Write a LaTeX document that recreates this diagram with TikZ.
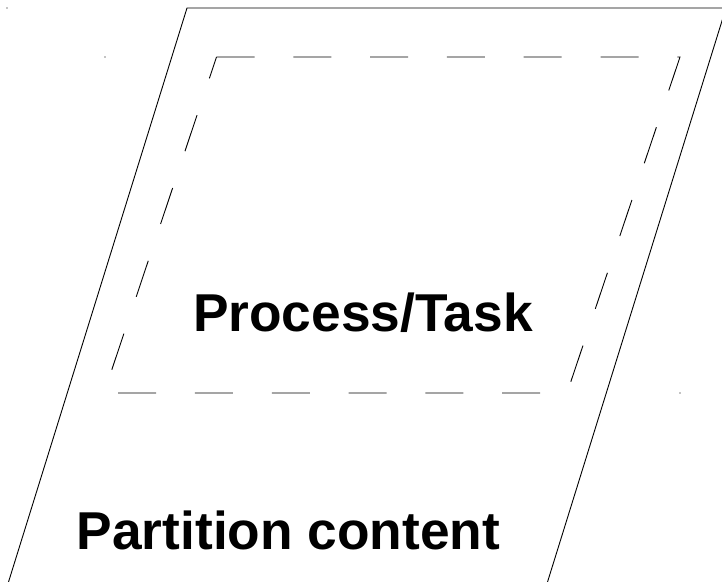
\documentclass[tikz,border=0pt]{standalone}
\usepackage{fontspec}
\setmainfont{Liberation Sans}
\begin{document}
\begin{tikzpicture}[x=1pt,y=-1pt,
  frame/.style={draw=black,line width=0.9pt},
  dashframe/.style={draw=black,line width=0.9pt,dash pattern=on 38pt off 38.8pt},
  label/.style={font=\fontsize{53.3}{60}\selectfont\bfseries,anchor=base,inner sep=0pt},
  bboxdot/.style={fill=black,circle,inner sep=0pt,minimum size=1.3pt}]
\useasboundingbox (0,0) rectangle (722,581);
\clip (0,0) rectangle (722,581);

% partition outline (continues past the page edges)
\coordinate (p1) at (187,8);
\coordinate (p2) at (726,8);
\coordinate (p3) at (541.9,600);
\coordinate (p4) at (2.9,600);
\draw[frame] (p1) -- (p2) -- (p3) -- (p4) -- cycle;

% dashed process/task outline
\coordinate (t1) at (216.5,57);
\coordinate (t2) at (680,57);
\coordinate (t3) at (567,393);
\coordinate (t4) at (104,393);
\draw[dashframe] (t1) -- (t2) -- (t3) -- (t4) -- cycle;

% bounding-box corner markers
\node[bboxdot] (d1) at (7,8) {};
\node[bboxdot] (d2) at (105,57) {};
\node[bboxdot] (d3) at (680,393) {};

% labels
\node[label] (task) at (363,331) {Process/Task};
\node[label] (part) at (288.5,549) {Partition content};
\end{tikzpicture}
\end{document}
